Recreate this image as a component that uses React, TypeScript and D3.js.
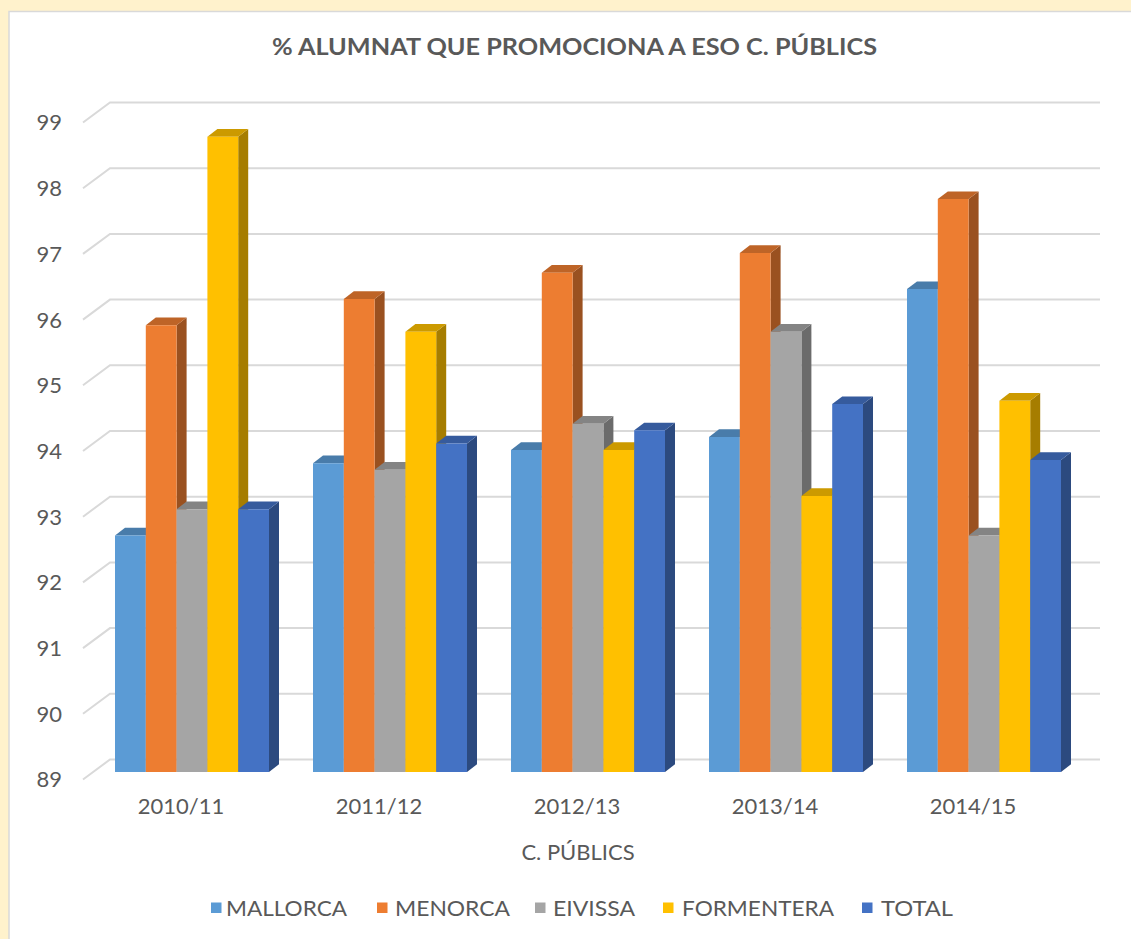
import React from "react";
import * as d3 from "d3";

const categories = ["2010/11", "2011/12", "2012/13", "2013/14", "2014/15"];
const seriesNames = ["MALLORCA", "MENORCA", "EIVISSA", "FORMENTERA", "TOTAL"];
const mallorca = [92.6, 93.7, 93.9, 94.1, 96.35];
const menorca = [95.8, 96.2, 96.6, 96.9, 97.72];
const eivissa = [93.0, 93.6, 94.3, 95.7, 92.6];
const formentera = [98.67, 95.7, 93.9, 93.2, 94.65];
const total = [93.0, 94.0, 94.2, 94.6, 93.75];
const yTicks = [89, 90, 91, 92, 93, 94, 95, 96, 97, 98, 99];
const colors = ["#5B9BD5", "#ED7D31", "#A5A5A5", "#FFC000", "#4472C4"];

const seriesValues = [mallorca, menorca, eivissa, formentera, total];

const FONT = "Lato, 'Open Sans', sans-serif";
const TXT = "#595959";

export default function App() {
  React.useEffect(() => {
    document.body.style.margin = "0";
  }, []);

  const W = 1131, H = 939;
  const frontLeft = 83, frontRight = 1073;
  const D = { x: 27, y: -20 };
  const barShift = { x: 10, y: -7.5 };
  const barDepth = { x: 10, y: -7.7 };

  const x0 = d3.scaleBand<string>().domain(categories).range([frontLeft, frontRight]).paddingInner(0).paddingOuter(0);
  const groupPad = 22;
  const x1 = d3.scaleBand<string>().domain(seriesNames).range([0, x0.bandwidth() - 2 * groupPad]).padding(0);
  const y = d3.scaleLinear().domain([89, 99]).range([779.5, 122.5]);

  const darken = (c: string, k: number) => {
    const col = d3.rgb(c);
    return d3.rgb(col.r * k, col.g * k, col.b * k).formatHex();
  };

  const bars: JSX.Element[] = [];
  categories.forEach((cat, ci) => {
    seriesNames.forEach((s, si) => {
      const v = seriesValues[si][ci];
      const xl = (x0(cat) as number) + groupPad + (x1(s) as number) + barShift.x;
      const w = x1.bandwidth();
      const yt = y(v) + barShift.y;
      const yb = y(89) + barShift.y;
      const c = colors[si];
      const front = `M${xl},${yt}L${xl + w},${yt}L${xl + w},${yb}L${xl},${yb}Z`;
      const side = `M${xl + w},${yt}L${xl + w + barDepth.x},${yt + barDepth.y}L${xl + w + barDepth.x},${yb + barDepth.y}L${xl + w},${yb}Z`;
      const top = `M${xl},${yt}L${xl + barDepth.x},${yt + barDepth.y}L${xl + w + barDepth.x},${yt + barDepth.y}L${xl + w},${yt}Z`;
      bars.push(
        <g key={`${ci}-${si}`}>
          <path d={side} fill={darken(c, 0.65)} />
          <path d={top} fill={darken(c, 0.8)} />
          <path d={front} fill={c} />
        </g>
      );
    });
  });

  const legendItems = [
    { sx: 211, tx: 226, tl: 121 },
    { sx: 377, tx: 395, tl: 115 },
    { sx: 535, tx: 553, tl: 82 },
    { sx: 663, tx: 682, tl: 152 },
    { sx: 862, tx: 881, tl: 72 },
  ];

  return (
    <svg width={W} height={H} style={{ position: "absolute", left: 0, top: 0, display: "block" }}>
      <rect x={0} y={0} width={W} height={H} fill="#FFF2CC" />
      <rect x={9} y={11.5} width={W + 10} height={H + 10} fill="#FFFFFF" stroke="#D9D9D9" strokeWidth={1.5} />
      <text x={272} y={55} textLength={605} lengthAdjust="spacingAndGlyphs" fontFamily={FONT} fontWeight={700} fontSize={23} fill={TXT}>
        % ALUMNAT QUE PROMOCIONA A ESO C. PÚBLICS
      </text>
      <g>
        {yTicks.map((t) => (
          <g key={t}>
            <path
              d={`M${frontLeft},${y(t)}L${frontLeft + D.x},${y(t) + D.y}L${frontRight + D.x},${y(t) + D.y}`}
              fill="none"
              stroke="#D9D9D9"
              strokeWidth={2}
            />
            <text x={62} y={y(t)} dy="0.36em" textAnchor="end" fontFamily={FONT} fontSize={22} fill={TXT}>
              {t}
            </text>
          </g>
        ))}
      </g>
      <g>{bars}</g>
      <g>
        {categories.map((c) => (
          <text key={c} x={(x0(c) as number) + x0.bandwidth() / 2 - 1} y={814} textAnchor="middle" fontFamily={FONT} fontSize={22} fill={TXT}>
            {c}
          </text>
        ))}
      </g>
      <text x={578} y={860} textAnchor="middle" fontFamily={FONT} fontSize={22} fill={TXT}>
        C. PÚBLICS
      </text>
      <g>
        {seriesNames.map((s, i) => (
          <g key={s}>
            <rect x={legendItems[i].sx} y={902.5} width={10.5} height={10.5} fill={colors[i]} />
            <text x={legendItems[i].tx} y={916} textLength={legendItems[i].tl} lengthAdjust="spacingAndGlyphs" fontFamily={FONT} fontSize={22} fill={TXT}>
              {s}
            </text>
          </g>
        ))}
      </g>
    </svg>
  );
}
